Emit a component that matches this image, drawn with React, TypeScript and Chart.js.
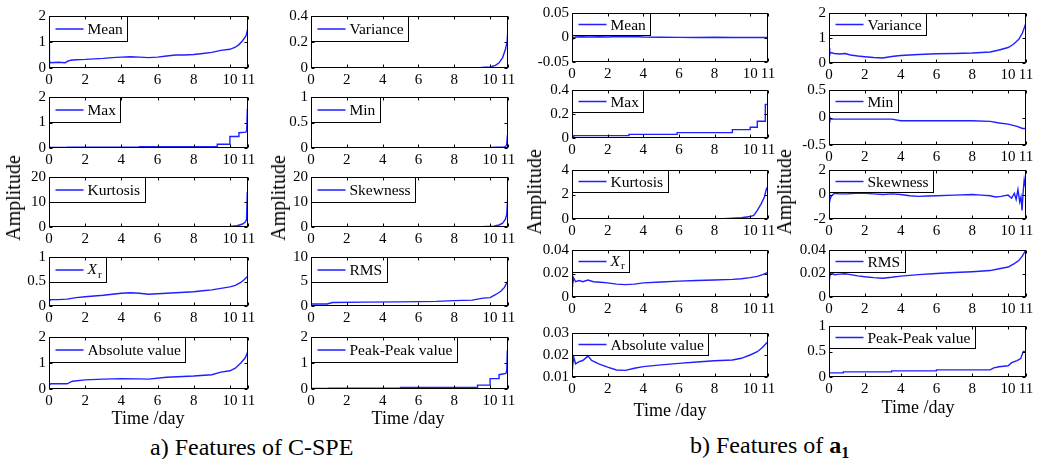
import React, { useEffect, useRef } from "react";
import { Chart, registerables } from "chart.js";
Chart.register(...registerables);

const X_TICKS = [0, 2, 4, 6, 8, 10, 11];

// ---------- a) Features of C-SPE ----------
const cspeMeanT = [0, 0, 0.02, 0.05, 0.1, 0.5, 0.9, 1.0, 1.2, 1.5, 2, 2.5, 3, 3.5, 4, 4.5, 5, 5.5, 6, 6.5, 7, 7.5, 8, 8.5, 9, 9.5, 10, 10.3, 10.5, 10.7, 10.9, 11];
const cspeMeanV = [0, 1.0, 0.15, 0.25, 0.2, 0.22, 0.2, 0.25, 0.3, 0.32, 0.33, 0.35, 0.37, 0.4, 0.42, 0.43, 0.42, 0.4, 0.42, 0.46, 0.5, 0.5, 0.52, 0.56, 0.6, 0.68, 0.72, 0.8, 0.9, 1.05, 1.25, 1.55];

const cspeMaxT = [0, 1, 1, 5, 5, 9.3, 9.3, 10, 10, 10.5, 10.5, 10.88, 10.93, 10.96, 11];
const cspeMaxV = [0.02, 0.02, 0.03, 0.03, 0.05, 0.05, 0.15, 0.15, 0.45, 0.45, 0.6, 0.62, 0.7, 1.45, 1.4];

const cspeKurtT = [0, 9, 10, 10.4, 10.7, 10.85, 10.92, 10.96, 11];
const cspeKurtV = [0.1, 0.1, 0.2, 0.5, 1.2, 2, 3, 14, 12];

const cspeXrT = [0, 0, 0.03, 0.1, 0.5, 1, 1.5, 2, 3, 4, 4.5, 5, 5.5, 6, 7, 8, 8.5, 9, 9.5, 10, 10.3, 10.6, 10.8, 11];
const cspeXrV = [0, 0.47, 0.1, 0.13, 0.13, 0.14, 0.17, 0.19, 0.22, 0.26, 0.27, 0.26, 0.24, 0.25, 0.27, 0.29, 0.31, 0.33, 0.36, 0.39, 0.42, 0.48, 0.54, 0.61];

const cspeAbsT = [0, 0, 0.03, 0.1, 0.5, 1, 1.3, 2, 3, 4, 5, 5.5, 6.5, 8, 9, 9.5, 10, 10.3, 10.6, 10.85, 11];
const cspeAbsV = [0, 0.6, 0.15, 0.2, 0.2, 0.2, 0.3, 0.35, 0.38, 0.4, 0.39, 0.38, 0.45, 0.5, 0.55, 0.65, 0.7, 0.8, 1.0, 1.2, 1.45];

const cspeVarT = [0, 8, 9.5, 10, 10.3, 10.5, 10.7, 10.85, 10.95, 11];
const cspeVarV = [0.001, 0.002, 0.004, 0.008, 0.02, 0.04, 0.08, 0.14, 0.2, 0.32];

const cspeMinT = [0, 0, 0.02, 6, 10, 10.8, 10.92, 10.97, 11];
const cspeMinV = [0, 0.9, 0.01, 0.005, 0.01, 0.02, 0.05, 0.25, 0.3];

const cspeSkewT = [0, 9.5, 10.2, 10.5, 10.7, 10.85, 10.93, 10.97, 11];
const cspeSkewV = [0.1, 0.1, 0.3, 0.8, 1.5, 3, 5, 10, 9];

const cspeRmsT = [0, 0.9, 1.2, 3, 5, 7, 8, 9, 9.3, 9.6, 10, 10.3, 10.6, 10.8, 11];
const cspeRmsV = [0.4, 0.4, 0.7, 0.8, 0.85, 0.95, 1.1, 1.2, 1.4, 1.6, 1.7, 2.3, 3.0, 3.8, 5.2];

const cspePpT = [0, 1, 1, 5, 5, 9.3, 9.3, 10, 10, 10.5, 10.5, 10.88, 10.93, 10.96, 11];
const cspePpV = [0.02, 0.02, 0.03, 0.03, 0.06, 0.06, 0.15, 0.15, 0.4, 0.4, 0.55, 0.6, 0.7, 1.4, 1.35];

// ---------- b) Features of a1 ----------
const a1MeanT = [0, 0.05, 0.2, 0.5, 1, 1.5, 2, 2.5, 3, 3.5, 4, 5, 6, 7, 8, 9, 10, 10.5, 11];
const a1MeanV = [0.002, -0.001, 0.001, 0.0015, 0.001, 0.0015, 0.001, 0.002, 0.0015, 0.002, 0.001, 0.0005, 0.0003, 0, 0.0005, 0, 0, 0.0003, 0];

const a1MaxT = [0, 0.1, 0.1, 3.2, 3.2, 5.9, 5.9, 9, 9, 10, 10, 10.4, 10.4, 10.85, 10.85, 11];
const a1MaxV = [0.015, 0.015, 0.02, 0.02, 0.03, 0.03, 0.045, 0.045, 0.07, 0.07, 0.09, 0.09, 0.14, 0.14, 0.28, 0.28];

const a1KurtT = [0, 8.5, 9.5, 10, 10.2, 10.4, 10.6, 10.8, 10.9, 11];
const a1KurtV = [0.02, 0.03, 0.1, 0.2, 0.3, 0.7, 1.2, 1.8, 2.4, 2.7];

const a1XrT = [0, 0.02, 0.05, 0.1, 0.2, 0.4, 0.6, 0.9, 1.2, 1.6, 2, 2.5, 3, 3.5, 4, 5, 6, 7, 8, 9, 9.5, 10, 10.4, 10.7, 11];
const a1XrV = [0.012, 0.018, 0.011, 0.016, 0.013, 0.014, 0.013, 0.0145, 0.013, 0.0125, 0.012, 0.011, 0.0105, 0.011, 0.012, 0.0128, 0.0135, 0.014, 0.0145, 0.015, 0.0155, 0.0165, 0.0175, 0.019, 0.021];

const a1AbsT = [0, 0.02, 0.05, 0.1, 0.2, 0.4, 0.6, 0.9, 1.1, 1.5, 2, 2.5, 3, 3.5, 4, 5, 6, 7, 8, 9, 9.5, 10, 10.4, 10.7, 11];
const a1AbsV = [0.014, 0.022, 0.015, 0.019, 0.016, 0.017, 0.0175, 0.0195, 0.0175, 0.016, 0.0145, 0.0132, 0.013, 0.014, 0.0147, 0.0155, 0.0162, 0.0168, 0.0174, 0.0177, 0.0185, 0.02, 0.0215, 0.0235, 0.0262];

const a1VarT = [0, 0.02, 0.05, 0.1, 0.3, 0.6, 0.9, 1.2, 1.6, 2, 2.5, 3, 3.5, 4, 5, 6, 7, 8, 9, 9.5, 10, 10.3, 10.6, 10.8, 11];
const a1VarV = [0.3, 0.6, 0.35, 0.42, 0.38, 0.36, 0.38, 0.32, 0.28, 0.25, 0.22, 0.2, 0.26, 0.3, 0.34, 0.37, 0.38, 0.4, 0.44, 0.52, 0.62, 0.75, 0.95, 1.2, 1.6];

const a1MinT = [0, 0.05, 0.5, 3.5, 4, 6, 8, 9, 9.5, 10, 10.5, 10.8, 11];
const a1MinV = [0.02, -0.03, -0.03, -0.03, -0.06, -0.06, -0.06, -0.07, -0.1, -0.12, -0.16, -0.2, -0.2];

const a1SkewT = [0, 0.03, 0.08, 0.15, 0.3, 0.6, 1, 1.5, 2, 2.5, 3, 3.5, 4, 4.5, 5, 5.5, 6, 7, 8, 8.5, 9, 9.3, 9.6, 10, 10.2, 10.35, 10.45, 10.55, 10.65, 10.72, 10.78, 10.84, 10.9, 10.95, 11];
const a1SkewV = [0.2, -0.6, -0.3, -0.1, 0.1, 0.05, 0.05, 0.1, 0.1, 0.05, 0.0, 0.05, 0.0, -0.1, -0.15, -0.12, -0.1, -0.05, 0, -0.05, -0.1, -0.2, -0.15, -0.05, -0.3, 0.1, -0.4, 0.4, -0.6, -0.2, -1.3, 0.2, 1.2, 0.8, 1.0];

const a1RmsT = [0, 0.02, 0.05, 0.1, 0.3, 0.6, 0.9, 1.2, 1.6, 2, 2.5, 3, 3.5, 4, 5, 6, 7, 8, 9, 9.5, 10, 10.3, 10.6, 10.8, 11];
const a1RmsV = [0.016, 0.023, 0.017, 0.021, 0.019, 0.0195, 0.0198, 0.019, 0.018, 0.0172, 0.0165, 0.016, 0.0168, 0.0178, 0.019, 0.02, 0.0208, 0.0215, 0.0225, 0.024, 0.0255, 0.028, 0.031, 0.035, 0.04];

const a1PpT = [0, 0.8, 0.8, 3.5, 3.5, 6, 6, 9, 9.2, 9.5, 10, 10.2, 10.5, 10.7, 10.85, 10.9, 11];
const a1PpV = [0.08, 0.08, 0.1, 0.1, 0.12, 0.12, 0.14, 0.14, 0.18, 0.2, 0.22, 0.28, 0.32, 0.36, 0.5, 0.5, 0.48];

// ---------- layout (plot boxes in page pixels) ----------
const COLS_X = [[49, 248], [311, 508], [572, 768], [829, 1026]];
const ROWS_LEFT = [[16, 68], [97, 148], [177, 227], [257, 306], [337, 389]];
const ROWS_COL3 = [[13, 62], [90, 138], [170, 219], [250, 297], [333, 377]];
const ROWS_COL4 = [[13, 63], [90, 145], [170, 219], [250, 297], [326, 377]];

const FONT = "'Liberation Serif', 'DejaVu Serif', 'Noto Serif', 'Times New Roman', serif";
const BLUE = "#1f1fff";
const YW = 50, PT = 12, PR = 14, XH = 26;

type Panel = {
  label: string; t: number[]; v: number[]; yTicks: number[];
  box: number[]; legendH: number;
};

const COL_SPECS: { label: string; t: number[]; v: number[]; yTicks: number[] }[][] = [
  [
    { label: "Mean", t: cspeMeanT, v: cspeMeanV, yTicks: [0, 1, 2] },
    { label: "Max", t: cspeMaxT, v: cspeMaxV, yTicks: [0, 1, 2] },
    { label: "Kurtosis", t: cspeKurtT, v: cspeKurtV, yTicks: [0, 10, 20] },
    { label: "Xr", t: cspeXrT, v: cspeXrV, yTicks: [0, 0.5, 1] },
    { label: "Absolute value", t: cspeAbsT, v: cspeAbsV, yTicks: [0, 1, 2] },
  ],
  [
    { label: "Variance", t: cspeVarT, v: cspeVarV, yTicks: [0, 0.2, 0.4] },
    { label: "Min", t: cspeMinT, v: cspeMinV, yTicks: [0, 0.5, 1] },
    { label: "Skewness", t: cspeSkewT, v: cspeSkewV, yTicks: [0, 10, 20] },
    { label: "RMS", t: cspeRmsT, v: cspeRmsV, yTicks: [0, 5, 10] },
    { label: "Peak-Peak value", t: cspePpT, v: cspePpV, yTicks: [0, 1, 2] },
  ],
  [
    { label: "Mean", t: a1MeanT, v: a1MeanV, yTicks: [-0.05, 0, 0.05] },
    { label: "Max", t: a1MaxT, v: a1MaxV, yTicks: [0, 0.2, 0.4] },
    { label: "Kurtosis", t: a1KurtT, v: a1KurtV, yTicks: [0, 2, 4] },
    { label: "Xr", t: a1XrT, v: a1XrV, yTicks: [0, 0.02, 0.04] },
    { label: "Absolute value", t: a1AbsT, v: a1AbsV, yTicks: [0.01, 0.02, 0.03] },
  ],
  [
    { label: "Variance", t: a1VarT, v: a1VarV, yTicks: [0, 1, 2] },
    { label: "Min", t: a1MinT, v: a1MinV, yTicks: [-0.5, 0, 0.5] },
    { label: "Skewness", t: a1SkewT, v: a1SkewV, yTicks: [-2, 0, 2] },
    { label: "RMS", t: a1RmsT, v: a1RmsV, yTicks: [0, 0.02, 0.04] },
    { label: "Peak-Peak value", t: a1PpT, v: a1PpV, yTicks: [0, 0.5, 1] },
  ],
];

const PANELS: Panel[] = [];
COL_SPECS.forEach((col, ci) => {
  const rows = ci < 2 ? ROWS_LEFT : ci === 2 ? ROWS_COL3 : ROWS_COL4;
  col.forEach((s, ri) => {
    PANELS.push({
      ...s,
      box: [COLS_X[ci][0], rows[ri][0], COLS_X[ci][1], rows[ri][1]],
      legendH: ci < 2 ? 25 : 22,
    });
  });
});

const framePlugin = {
  id: "frame",
  afterDatasetsDraw(chart: any, _args: any, opts: any) {
    const { ctx, chartArea: a, scales } = chart;
    ctx.save();
    const L = Math.round(a.left) + 0.5, T = Math.round(a.top) + 0.5;
    const R = Math.round(a.right) - 0.5, B = Math.round(a.bottom) - 0.5;
    // legend
    const fs = 15.5;
    ctx.font = `${fs}px ${FONT}`;
    let textW: number;
    if (opts.label === "Xr") {
      ctx.font = `italic ${fs}px ${FONT}`;
      const w1 = ctx.measureText("X").width;
      ctx.font = `11px ${FONT}`;
      textW = w1 + ctx.measureText("r").width + 1;
    } else {
      textW = ctx.measureText(opts.label).width;
    }
    const lh = opts.legendH;
    const lw = Math.round(6 + 28 + 4 + textW + 5);
    ctx.fillStyle = "#fff";
    ctx.fillRect(L, T, lw, lh);
    ctx.strokeStyle = "#000";
    ctx.lineWidth = 1;
    ctx.strokeRect(L, T, lw, lh);
    const my = T + lh / 2;
    ctx.strokeStyle = BLUE;
    ctx.lineWidth = 1.5;
    ctx.beginPath();
    ctx.moveTo(L + 6, my);
    ctx.lineTo(L + 34, my);
    ctx.stroke();
    ctx.fillStyle = "#000";
    ctx.textBaseline = "middle";
    ctx.textAlign = "left";
    if (opts.label === "Xr") {
      ctx.font = `italic ${fs}px ${FONT}`;
      ctx.fillText("X", L + 38, my);
      const w1 = ctx.measureText("X").width;
      ctx.font = `11px ${FONT}`;
      ctx.fillText("r", L + 38 + w1 + 1, my + 5);
    } else {
      ctx.font = `${fs}px ${FONT}`;
      ctx.fillText(opts.label, L + 38, my + 1);
    }
    // frame
    ctx.strokeStyle = "#000";
    ctx.lineWidth = 1;
    ctx.strokeRect(L, T, R - L, B - T);
    // inward ticks
    const TL = 3;
    ctx.beginPath();
    for (const tk of scales.x.ticks) {
      const px = Math.round(scales.x.getPixelForValue(tk.value)) + 0.5;
      ctx.moveTo(px, B); ctx.lineTo(px, B - TL);
      ctx.moveTo(px, T); ctx.lineTo(px, T + TL);
    }
    for (const tk of scales.y.ticks) {
      const py = Math.round(scales.y.getPixelForValue(tk.value)) + 0.5;
      ctx.moveTo(L, py); ctx.lineTo(L + TL, py);
      ctx.moveTo(R, py); ctx.lineTo(R - TL, py);
    }
    ctx.stroke();
    ctx.restore();
  },
};

function PanelChart({ p }: { p: Panel }) {
  const ref = useRef<HTMLCanvasElement>(null);
  const [l, t, r, b] = p.box;
  const W = r - l + YW + PR;
  const H = b - t + PT + XH;
  useEffect(() => {
    const yMin = p.yTicks[0];
    const yMax = p.yTicks[p.yTicks.length - 1];
    const chart = new Chart(ref.current as HTMLCanvasElement, {
      type: "line",
      data: {
        datasets: [
          {
            data: p.t.map((x, i) => ({ x, y: p.v[i] })),
            borderColor: BLUE,
            borderWidth: 1.4,
            pointRadius: 0,
            tension: 0,
            fill: false,
          },
        ],
      },
      options: {
        responsive: false,
        maintainAspectRatio: false,
        animation: false,
        events: [],
        layout: { padding: { top: PT, right: PR, left: 0, bottom: 0 } },
        plugins: {
          legend: { display: false },
          tooltip: { enabled: false },
          frame: { label: p.label, legendH: p.legendH },
        } as any,
        scales: {
          x: {
            type: "linear",
            min: 0,
            max: 11,
            afterBuildTicks: (s: any) => { s.ticks = X_TICKS.map((v) => ({ value: v })); },
            afterFit: (s: any) => { s.height = XH; },
            grid: { display: false, drawTicks: false },
            border: { display: false },
            ticks: {
              color: "#000",
              font: { family: FONT, size: 15 },
              padding: 3,
              maxRotation: 0,
              autoSkip: false,
              callback: (v: any) => String(v),
            },
          },
          y: {
            type: "linear",
            min: yMin,
            max: yMax,
            afterBuildTicks: (s: any) => { s.ticks = p.yTicks.map((v) => ({ value: v })); },
            afterFit: (s: any) => { s.width = YW; },
            grid: { display: false, drawTicks: false },
            border: { display: false },
            ticks: {
              color: "#000",
              font: { family: FONT, size: 15 },
              padding: 3,
              autoSkip: false,
              callback: (v: any) => String(v),
            },
          },
        },
      } as any,
      plugins: [framePlugin as any],
    });
    return () => chart.destroy();
  }, []);
  return (
    <canvas
      ref={ref}
      width={W}
      height={H}
      style={{ position: "absolute", left: l - YW, top: t - PT, width: W, height: H }}
    />
  );
}

const textBase: React.CSSProperties = {
  position: "absolute",
  fontFamily: FONT,
  color: "#000",
  whiteSpace: "nowrap",
  lineHeight: 1,
};

function VLabel({ x, y }: { x: number; y: number }) {
  return (
    <div style={{ ...textBase, left: x, top: y, fontSize: 20, transform: "translate(-50%, -50%) rotate(-90deg)" }}>
      Amplitude
    </div>
  );
}

function XLabel({ x, y }: { x: number; y: number }) {
  return (
    <div style={{ ...textBase, left: x, top: y, fontSize: 18, transform: "translate(-50%, -50%)" }}>
      Time /day
    </div>
  );
}

export default function App() {
  return (
    <div style={{ position: "fixed", left: 0, top: 0, width: 1037, height: 459, background: "#fff", overflow: "hidden" }}>
      {PANELS.map((p, i) => (
        <PanelChart key={i} p={p} />
      ))}
      <VLabel x={13} y={198} />
      <VLabel x={278} y={198} />
      <VLabel x={534} y={192} />
      <VLabel x={784} y={192} />
      <XLabel x={148} y={418} />
      <XLabel x={408} y={418} />
      <XLabel x={670} y={410} />
      <XLabel x={918} y={407} />
      <div style={{ ...textBase, left: 150, top: 447, fontSize: 24, transform: "translateY(-50%)" }}>
        a) Features of C-SPE
      </div>
      <div style={{ ...textBase, left: 690, top: 447, fontSize: 24, transform: "translateY(-50%)" }}>
        b) Features of <b>a</b>
        <sub style={{ fontWeight: "bold", fontSize: 16 }}>1</sub>
      </div>
    </div>
  );
}
